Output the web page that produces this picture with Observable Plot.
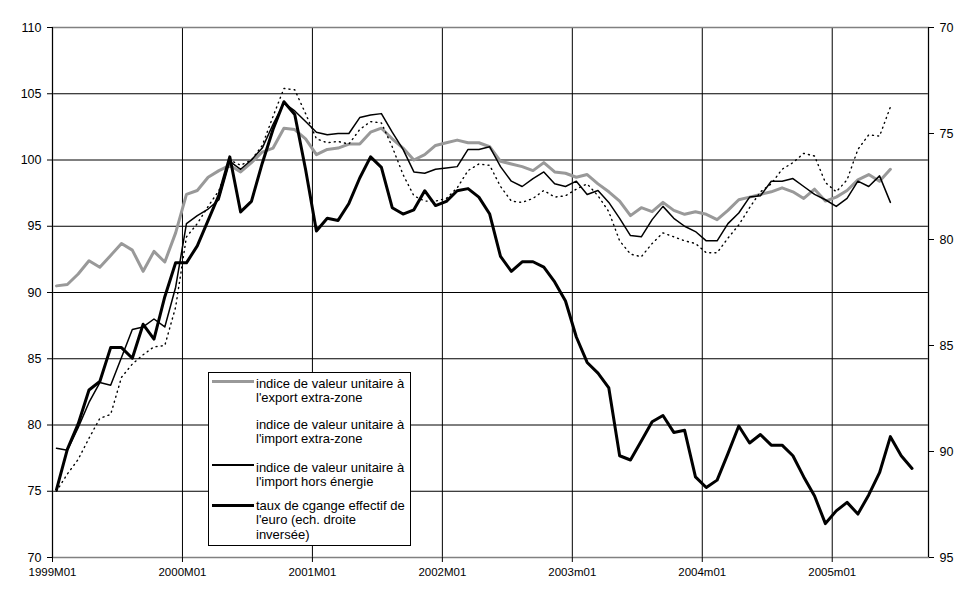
<!DOCTYPE html>
<html><head><meta charset="utf-8">
<script src="https://cdn.jsdelivr.net/npm/d3@7"></script>
<script src="https://cdn.jsdelivr.net/npm/@observablehq/plot@0.6"></script>
<style>
body{margin:0;background:#fff;}
#wrap{position:relative;width:969px;height:602px;font-family:"Liberation Sans",Arial,sans-serif;color:#000;}
#legend{position:absolute;left:208px;top:372px;width:201px;height:172px;border:1px solid #000;background:#fff;}
.entry{position:absolute;left:0;width:201px;}
.sample{position:absolute;left:3px;width:42px;}
.txt{position:absolute;left:47px;font-size:13px;line-height:14.5px;white-space:nowrap;}
</style></head><body><div id="wrap"></div>
<script>
// ---- data (month index 0 = 1999M01) ----
const yearStarts = [0, 12, 24, 36, 48, 60, 72];
const xTickLabels = ["1999M01", "2000M01", "2001M01", "2002M01", "2003m01", "2004m01", "2005m01"];
const leftTicks = [70, 75, 80, 85, 90, 95, 100, 105, 110];
const rightTicks = [70, 75, 80, 85, 90, 95];

const exportExtra = [90.5, 90.6, 91.4, 92.4, 91.9, 92.8, 93.7, 93.2, 91.6, 93.1, 92.3, 94.5,
  97.4, 97.7, 98.7, 99.2, 99.6, 99.1, 99.8, 100.6, 100.9, 102.4, 102.3, 101.6,
  100.4, 100.8, 100.9, 101.2, 101.2, 102.1, 102.4, 101.6, 100.9, 100.0, 100.4, 101.1,
  101.3, 101.5, 101.3, 101.3, 101.0, 99.9, 99.7, 99.5, 99.2, 99.8, 99.1, 99.0,
  98.7, 98.9, 98.2, 97.6, 96.9, 95.8, 96.4, 96.1, 96.8, 96.2, 95.9, 96.1,
  95.9, 95.5, 96.2, 97.0, 97.2, 97.4, 97.6, 97.9, 97.6, 97.1, 97.8, 96.9,
  97.2, 97.7, 98.5, 98.9, 98.4, 99.3];

const importExtra = [75.0, 76.3, 77.4, 79.0, 80.5, 80.8, 83.6, 84.6, 85.3, 85.9, 86.0, 88.9,
  94.2, 95.2, 96.5, 97.7, 100.0, 99.6, 100.0, 101.1, 103.3, 105.4, 105.3, 103.5,
  101.6, 101.3, 101.4, 101.2, 102.3, 102.9, 102.8, 101.0, 98.9, 97.3, 96.9, 96.9,
  97.1, 97.9, 99.2, 99.7, 99.6, 98.0, 96.9, 96.8, 97.1, 97.7, 97.2, 97.3,
  97.8, 98.2, 97.3, 96.1, 93.9, 92.9, 92.7, 93.7, 94.5, 94.2, 93.9, 93.7,
  93.0, 93.0, 94.1, 95.1, 96.4, 97.6, 98.2, 99.3, 99.8, 100.5, 100.3, 98.3,
  97.6, 98.5, 100.8, 101.9, 101.8, 104.0];

const importHorsEnergie = [78.25, 78.1, 79.8, 81.7, 83.2, 83.0, 85.1, 87.2, 87.4, 88.0, 87.4, 90.4,
  95.2, 95.8, 96.3, 97.0, 99.9, 99.3, 100.0, 100.9, 102.7, 104.3, 103.7, 102.9,
  102.1, 101.9, 102.0, 102.0, 103.2, 103.4, 103.5, 102.1, 100.8, 99.1, 99.0, 99.3,
  99.4, 99.5, 100.8, 100.8, 101.0, 99.5, 98.4, 98.0, 98.6, 99.1, 98.2, 98.0,
  98.4, 97.4, 97.7, 96.8, 95.6, 94.3, 94.2, 95.5, 96.5, 95.6, 95.0, 94.6,
  93.9, 93.9, 95.2, 96.0, 97.2, 97.3, 98.4, 98.4, 98.6, 98.0, 97.4, 97.0,
  96.5, 97.1, 98.4, 98.0, 98.8, 96.8];

// right axis, inverted
const euroTCE = [91.8, 89.9, 88.7, 87.1, 86.7, 85.1, 85.1, 85.6, 84.0, 84.7, 82.7, 81.1,
  81.1, 80.3, 79.1, 77.9, 76.1, 78.7, 78.2, 76.4, 74.8, 73.5, 74.1, 76.7,
  79.6, 79.0, 79.1, 78.3, 77.1, 76.1, 76.6, 78.5, 78.8, 78.6, 77.7, 78.4,
  78.2, 77.7, 77.6, 78.0, 78.8, 80.8, 81.5, 81.05, 81.05, 81.3, 82.0, 82.9,
  84.6, 85.8, 86.3, 87.0, 90.2, 90.4, 89.5, 88.6, 88.3, 89.1, 89.0, 91.2,
  91.7, 91.35, 90.1, 88.8, 89.6, 89.2, 89.7, 89.7, 90.2, 91.2, 92.1, 93.4,
  92.8, 92.4, 92.95, 92.05, 91.0, 89.3, 90.2, 90.8];

const legendLabels = [
  ["indice de valeur unitaire à", "l'export extra-zone"],
  ["indice de valeur unitaire à", "l'import extra-zone"],
  ["indice de valeur unitaire à", "l'import hors énergie"],
  ["taux de cgange effectif de", "l'euro (ech. droite", "inversée)"]
];

// ---- scales ----
const GRID_SHIFT = -0.37;           // category gridlines sit slightly left of points
const xDomain = [GRID_SHIFT, 80.52];
const leftDomain = [70, 110];
const rightDomain = [70, 95];       // inverted: 70 at top
const k = (leftDomain[1] - leftDomain[0]) / (rightDomain[1] - rightDomain[0]);
const toLeft = v => leftDomain[1] - (v - rightDomain[0]) * k;
const fromLeft = l => rightDomain[0] + (leftDomain[1] - l) / k;

const series = a => a.map((v, i) => ({i, v}));
const yearTickPos = yearStarts.map(m => m + GRID_SHIFT);

const styles = {
  exp: {stroke: "#999999", strokeWidth: 3},
  imp: {stroke: "#000", strokeWidth: 1.4, strokeDasharray: "1 4.2"},
  hen: {stroke: "#000", strokeWidth: 1.5},
  eur: {stroke: "#000", strokeWidth: 3}
};

const chart = Plot.plot({
  width: 969, height: 602,
  marginLeft: 52, marginRight: 41, marginTop: 27, marginBottom: 45,
  style: {fontFamily: '"Liberation Sans", Arial, sans-serif', fontSize: "12px", background: "#fff", color: "#000"},
  x: {type: "linear", domain: xDomain, label: null},
  y: {domain: leftDomain, label: null},
  marks: [
    Plot.ruleY(leftTicks.filter(v => v > leftDomain[0] && v < leftDomain[1]), {stroke: "#000", strokeWidth: 1}),
    Plot.ruleX(yearTickPos.slice(1), {stroke: "#000", strokeWidth: 1}),
    Plot.frame({stroke: "#808080", strokeWidth: 1.5}),
    Plot.ruleX([xDomain[0], xDomain[1]], {stroke: "#000", strokeWidth: 1}),
    Plot.line(series(exportExtra), {x: "i", y: "v", ...styles.exp}),
    Plot.line(series(importExtra), {x: "i", y: "v", ...styles.imp}),
    Plot.line(series(importHorsEnergie), {x: "i", y: "v", ...styles.hen}),
    Plot.line(series(euroTCE), {x: "i", y: d => toLeft(d.v), ...styles.eur}),
    Plot.axisY(leftTicks, {anchor: "left", tickSize: 5, tickPadding: 6, label: null, fontSize: 12.5}),
    Plot.axisY(rightTicks.map(toLeft), {anchor: "right", tickSize: 5, tickPadding: 6, label: null, fontSize: 12.5,
      tickFormat: d => String(Math.round(fromLeft(d)))}),
    Plot.axisX(yearTickPos, {anchor: "bottom", tickSize: 5, tickPadding: 5, label: null, fontSize: 11.5,
      tickFormat: d => xTickLabels[Math.round((d - GRID_SHIFT) / 12)]})
  ]
});

const wrap = document.getElementById("wrap");
wrap.appendChild(chart);

// ---- legend (inside plot area, as in the original) ----
const legendSamples = [
  {color: "#999999", width: 3},
  null,
  {color: "#000", width: 1.5},
  {color: "#000", width: 3}
];
const entryTops = [3.5, 44.5, 87.5, 125.5];
const legend = document.createElement("div");
legend.id = "legend";
legendLabels.forEach((lines, j) => {
  const e = document.createElement("div");
  e.className = "entry";
  e.style.top = entryTops[j] + "px";
  const s = legendSamples[j];
  if (s) {
    const ln = document.createElement("div");
    ln.className = "sample";
    ln.style.top = (j === 3 ? 7.25 : 4.5) - s.width / 2 + "px";
    ln.style.height = s.width + "px";
    ln.style.background = s.color;
    e.appendChild(ln);
  }
  const t = document.createElement("div");
  t.className = "txt";
  t.innerHTML = lines.join("<br>");
  e.appendChild(t);
  legend.appendChild(e);
});
wrap.appendChild(legend);
</script>
</body></html>
